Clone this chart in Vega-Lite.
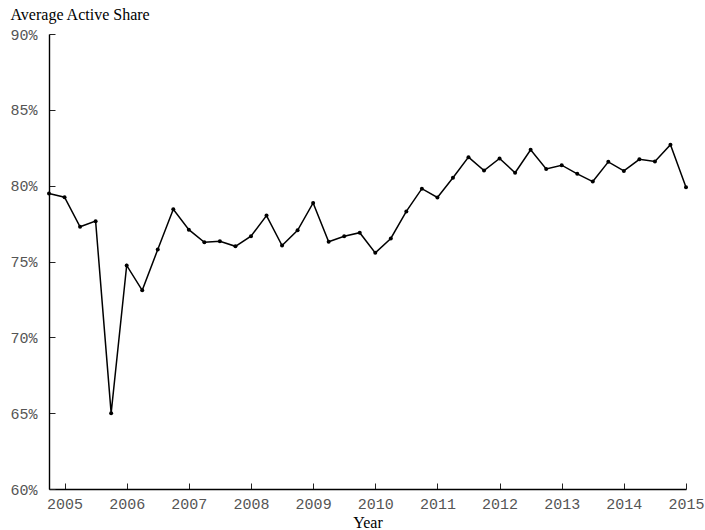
{
  "$schema": "https://vega.github.io/schema/vega-lite/v6.json",
  "width": 637,
  "height": 455,
  "autosize": {"type": "none"},
  "padding": {"left": 49, "top": 34, "right": 19, "bottom": 41},
  "background": "white",
  "config": {"view": {"stroke": null}},
  "data": {"values": [
    {"year": 2004.75, "share": 79.48},
    {"year": 2005.0, "share": 79.24},
    {"year": 2005.25, "share": 77.29},
    {"year": 2005.5, "share": 77.66},
    {"year": 2005.75, "share": 65.0},
    {"year": 2006.0, "share": 74.74},
    {"year": 2006.25, "share": 73.1},
    {"year": 2006.5, "share": 75.79},
    {"year": 2006.75, "share": 78.45},
    {"year": 2007.0, "share": 77.1},
    {"year": 2007.25, "share": 76.27},
    {"year": 2007.5, "share": 76.34},
    {"year": 2007.75, "share": 76.0},
    {"year": 2008.0, "share": 76.67},
    {"year": 2008.25, "share": 78.03},
    {"year": 2008.5, "share": 76.05},
    {"year": 2008.75, "share": 77.06},
    {"year": 2009.0, "share": 78.86},
    {"year": 2009.25, "share": 76.3},
    {"year": 2009.5, "share": 76.67},
    {"year": 2009.75, "share": 76.9},
    {"year": 2010.0, "share": 75.57},
    {"year": 2010.25, "share": 76.52},
    {"year": 2010.5, "share": 78.3},
    {"year": 2010.75, "share": 79.8},
    {"year": 2011.0, "share": 79.22},
    {"year": 2011.25, "share": 80.52},
    {"year": 2011.5, "share": 81.88},
    {"year": 2011.75, "share": 81.0},
    {"year": 2012.0, "share": 81.79},
    {"year": 2012.25, "share": 80.85},
    {"year": 2012.5, "share": 82.36},
    {"year": 2012.75, "share": 81.1},
    {"year": 2013.0, "share": 81.35},
    {"year": 2013.25, "share": 80.78},
    {"year": 2013.5, "share": 80.27},
    {"year": 2013.75, "share": 81.57},
    {"year": 2014.0, "share": 80.97},
    {"year": 2014.25, "share": 81.74},
    {"year": 2014.5, "share": 81.6},
    {"year": 2014.75, "share": 82.7},
    {"year": 2015.0, "share": 79.9}
  ]},
  "encoding": {
    "x": {
      "field": "year", "type": "quantitative",
      "scale": {"domain": [2004.75, 2015], "nice": false, "zero": false},
      "axis": {
        "title": "Year",
        "values": [2005, 2006, 2007, 2008, 2009, 2010, 2011, 2012, 2013, 2014, 2015],
        "format": "d",
        "grid": false,
        "labelFlush": false,
        "labelOverlap": false,
        "domainColor": "#000", "domainWidth": 1.4,
        "tickColor": "#222", "tickWidth": 1, "tickSize": -6,
        "labelFont": "Liberation Mono", "labelFontSize": 15, "labelColor": "#555",
        "labelPadding": 13,
        "titleFont": "Liberation Serif", "titleFontSize": 16, "titleFontWeight": "normal", "titleColor": "#000",
        "titlePadding": 3
      }
    },
    "y": {
      "field": "share", "type": "quantitative",
      "scale": {"domain": [60, 90], "nice": false, "zero": false},
      "axis": {
        "title": "Average Active Share",
        "values": [60, 65, 70, 75, 80, 85, 90],
        "labelExpr": "datum.value + '%'",
        "grid": false,
        "labelFlush": false,
        "labelOverlap": false,
        "domainColor": "#000", "domainWidth": 1.4,
        "tickColor": "#222", "tickWidth": 1, "tickSize": -6,
        "labelFont": "Liberation Mono", "labelFontSize": 15, "labelColor": "#555",
        "labelPadding": 18,
        "titleFont": "Liberation Serif", "titleFontSize": 16, "titleFontWeight": "normal", "titleColor": "#000",
        "titleAngle": 0, "titleAlign": "left", "titleBaseline": "alphabetic",
        "titleX": -39, "titleY": -15
      }
    }
  },
  "layer": [
    {"mark": {"type": "line", "color": "#000", "strokeWidth": 1.5}},
    {"mark": {"type": "point", "filled": true, "color": "#000", "size": 16, "opacity": 1}}
  ]
}
